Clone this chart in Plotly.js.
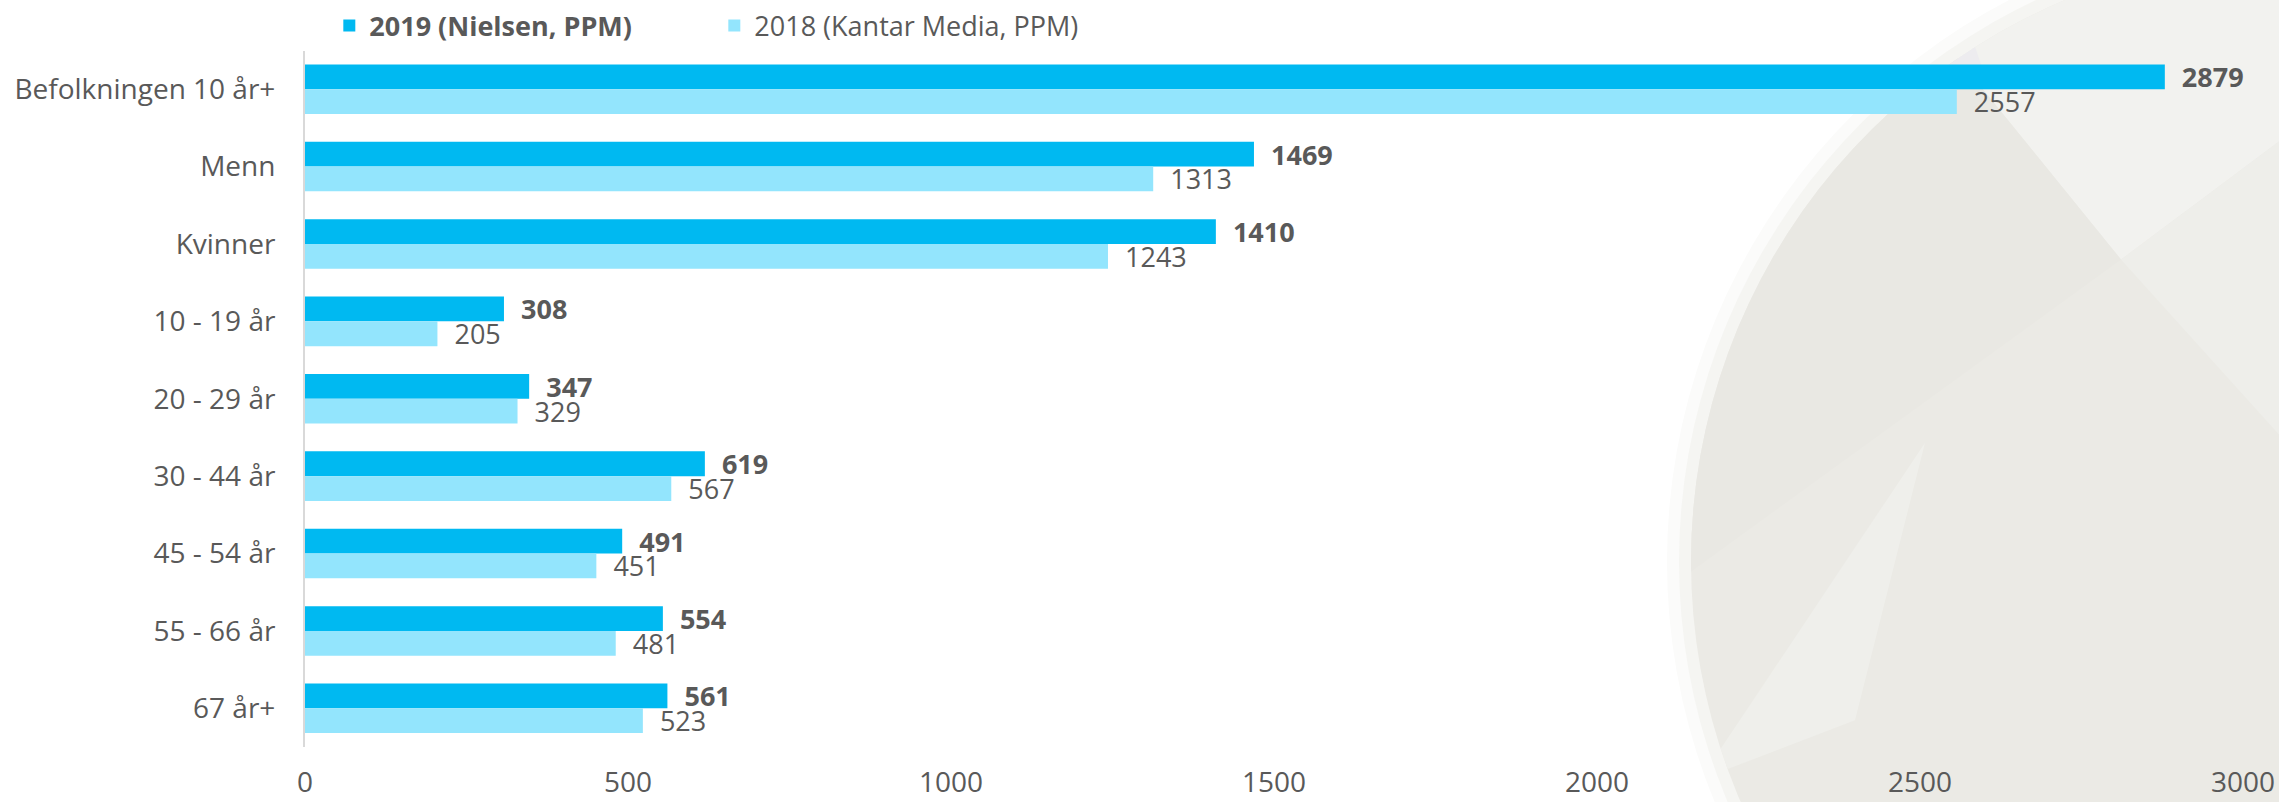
<!DOCTYPE html>
<html>
<head>
<meta charset="utf-8">
<script src="https://cdn.plot.ly/plotly-3.0.1.min.js"></script>
<style>html,body{margin:0;padding:0;background:#fff;}#chart{width:2279px;height:802px;}</style>
</head>
<body>
<div id="chart"></div>
<script>
const categories = ["Befolkningen 10 år+", "Menn", "Kvinner", "10 - 19 år", "20 - 29 år", "30 - 44 år", "45 - 54 år", "55 - 66 år", "67 år+"];
const values2019 = [2879, 1469, 1410, 308, 347, 619, 491, 554, 561];
const values2018 = [2557, 1313, 1243, 205, 329, 567, 451, 481, 523];
const series2019Name = "2019 (Nielsen, PPM)";
const series2018Name = "2018 (Kantar Media, PPM)";
const xTicks = [0, 500, 1000, 1500, 2000, 2500, 3000];

const textColor = "#595959";
const fontFamily = "Open Sans, Noto Sans, sans-serif";
const W = 2279, H = 802;
const M = {l: 305, r: 36, t: 44, b: 55};
const PW = W - M.l - M.r, PH = H - M.t - M.b;

// ---- decorative background (pixel geometry -> paper coords) ----
function toPaper(p) { return [(p[0] - M.l) / PW, (H - M.b - p[1]) / PH]; }
function polyPath(pts) {
  return "M " + pts.map(p => { const q = toPaper(p); return q[0].toFixed(5) + "," + q[1].toFixed(5); }).join(" L ") + " Z";
}
function circlePts(cx, cy, r, n) {
  const pts = [];
  for (let i = 0; i < n; i++) { const a = 2 * Math.PI * i / n; pts.push([cx + r * Math.cos(a), cy + r * Math.sin(a)]); }
  return pts;
}
function clip(subject, clipPoly) {
  let out = subject;
  const n = clipPoly.length;
  let area = 0;
  for (let i = 0; i < n; i++) { const a = clipPoly[i], b = clipPoly[(i + 1) % n]; area += a[0] * b[1] - b[0] * a[1]; }
  const sgn = area > 0 ? 1 : -1;
  const inside = (p, a, b) => sgn * ((b[0] - a[0]) * (p[1] - a[1]) - (b[1] - a[1]) * (p[0] - a[0])) >= 0;
  const inter = (p, q, a, b) => {
    const A1 = q[1] - p[1], B1 = p[0] - q[0], C1 = A1 * p[0] + B1 * p[1];
    const A2 = b[1] - a[1], B2 = a[0] - b[0], C2 = A2 * a[0] + B2 * a[1];
    const d = A1 * B2 - A2 * B1;
    return [(B2 * C1 - B1 * C2) / d, (A1 * C2 - A2 * C1) / d];
  };
  for (let i = 0; i < n && out.length; i++) {
    const a = clipPoly[i], b = clipPoly[(i + 1) % n];
    const input = out; out = [];
    for (let j = 0; j < input.length; j++) {
      const p = input[j], q = input[(j + 1) % input.length];
      const pin = inside(p, a, b), qin = inside(q, a, b);
      if (pin) { out.push(p); if (!qin) out.push(inter(p, q, a, b)); }
      else if (qin) out.push(inter(p, q, a, b));
    }
  }
  return out;
}
const CX = 2308, CY = 560, R = 617;
const disc = circlePts(CX, CY, R, 144);
const facets = [
  {pts: [[1900, -20], [2121, 255], [2300, 120], [2300, -20]], color: "#F2F2EF"},
  {pts: [[2121, 255], [2300, 455], [2300, 120]], color: "#EEEEEA"},
  {pts: [[1900, -20], [2121, 255], [1650, 600], [1650, -20]], color: "#E9E8E3"},
  {pts: [[1925, 440], [1700, 780], [1855, 720]], color: "#EFEFEB"},
  {pts: [[1800, -5], [1960, -5], [1985, 70], [1900, 70]], color: "#EDECEF"}
];
const bgShapes = [
  {type: "path", path: polyPath(circlePts(CX, CY, R + 24, 144)), fillcolor: "#FBFBFA"},
  {type: "path", path: polyPath(circlePts(CX, CY, R + 12, 144)), fillcolor: "#F5F5F2"},
  {type: "path", path: polyPath(disc), fillcolor: "#EBEAE5"}
].concat(facets.map(f => ({type: "path", path: polyPath(clip(f.pts, disc)), fillcolor: f.color})))
 .map(s => Object.assign(s, {xref: "paper", yref: "paper", layer: "below", line: {width: 0}}));

// ---- traces ----
const pad = "\u00a0\u00a0";
const traces = [
  {
    type: "bar", orientation: "h",
    y: categories, x: values2019,
    name: "<b>" + series2019Name + "</b>",
    marker: {color: "#00B9F1"},
    texttemplate: pad + "<b>%{x}</b>",
    textposition: "outside",
    constraintext: "none",
    textfont: {size: 27, color: textColor, family: fontFamily},
    cliponaxis: false
  },
  {
    type: "bar", orientation: "h",
    y: categories, x: values2018,
    name: series2018Name,
    marker: {color: "#93E5FD"},
    texttemplate: pad + "%{x}",
    textposition: "outside",
    constraintext: "none",
    textfont: {size: 27, color: textColor, family: fontFamily},
    cliponaxis: false
  }
];

const layout = {
  width: W, height: H,
  margin: M,
  paper_bgcolor: "#ffffff",
  plot_bgcolor: "rgba(0,0,0,0)",
  font: {family: fontFamily, color: textColor, size: 28},
  barmode: "group",
  bargap: 0.36,
  bargroupgap: 0,
  showlegend: true,
  legend: {
    orientation: "h",
    xref: "container", yref: "container",
    x: 0.1445, xanchor: "left",
    y: 1 - 26 / H, yanchor: "middle",
    font: {size: 27, color: textColor},
    bgcolor: "rgba(0,0,0,0)",
    entrywidth: 340,
    traceorder: "normal"
  },
  xaxis: {
    range: [0, 3000],
    tickvals: xTicks,
    ticktext: xTicks.map(String),
    showgrid: false,
    zeroline: false,
    showline: false,
    ticks: "",
    ticklabelstandoff: 16,
    tickfont: {size: 28, color: textColor}
  },
  yaxis: {
    type: "category",
    autorange: "reversed",
    showgrid: false,
    zeroline: false,
    showline: true,
    linecolor: "#D9D9D9",
    linewidth: 2,
    ticks: "",
    ticklabelstandoff: 22,
    tickfont: {size: 28, color: textColor}
  },
  shapes: bgShapes
};

Plotly.newPlot("chart", traces, layout, {displayModeBar: false, staticPlot: true});
</script>
</body>
</html>
